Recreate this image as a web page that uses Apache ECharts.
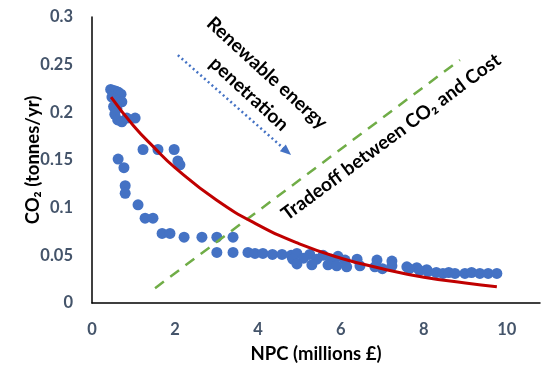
<!DOCTYPE html>
<html><head><meta charset="utf-8">
<script src="https://cdn.jsdelivr.net/npm/echarts@6/dist/echarts.min.js"></script>
<style>html,body{margin:0;padding:0;background:#fff}#c{width:545px;height:370px}</style>
</head><body><div id="c"></div>
<script>
// Scatter data
var npcX = [0.45,0.52,0.58,0.64,0.70,0.48,0.56,0.62,0.72,0.52,0.60,0.55,0.62,0.72,0.84,1.04,
  0.63,0.77,0.80,0.80,1.11,1.23,1.59,1.98,2.07,2.12,1.28,1.47,1.69,1.88,2.22,2.65,3.01,3.40,
  3.01,3.40,3.76,3.93,4.12,4.35,4.58,4.80,4.94,5.25,5.57,5.93,
  4.84,5.10,5.42,5.78,6.10,6.39,6.87,7.23,
  4.94,5.30,5.69,5.90,6.14,6.46,6.82,7.00,7.23,7.59,7.83,8.07,
  7.65,7.90,8.10,8.30,8.46,8.60,8.75,8.99,9.15,9.35,9.55,9.76];
var co2Y = [0.224,0.223,0.222,0.221,0.219,0.216,0.214,0.212,0.211,0.206,0.204,0.198,0.192,0.190,0.194,0.194,
  0.151,0.142,0.123,0.115,0.103,0.161,0.161,0.161,0.149,0.145,0.089,0.089,0.073,0.073,0.069,0.069,0.069,0.069,
  0.053,0.053,0.053,0.052,0.052,0.051,0.051,0.050,0.052,0.051,0.050,0.049,
  0.046,0.047,0.046,0.046,0.045,0.046,0.045,0.044,
  0.041,0.040,0.040,0.039,0.038,0.039,0.038,0.036,0.039,0.038,0.037,0.035,
  0.036,0.034,0.033,0.032,0.031,0.032,0.031,0.031,0.032,0.031,0.031,0.031];
// Trend line (red)
var trendX = [0.46,1,1.5,2,3,4,5,6,7,8,9,9.76];
var trendY = [0.216,0.186,0.163,0.142,0.108,0.082,0.062,0.047,0.036,0.027,0.021,0.017];
// Tradeoff dashed line (green)
var tradeX = [1.52,8.87];
var tradeY = [0.0156,0.255];
// Renewable penetration arrow (blue dotted)
var arrowX = [2.07,4.70];
var arrowY = [0.26,0.159];
// Axes
var xMin = 0, xMax = 10.8, xStep = 2;
var yMin = 0, yMax = 0.3, yStep = 0.05;

function zip(a,b){return a.map(function(v,i){return [v,b[i]];});}
var FONT = 'Lato';
var chart = echarts.init(document.getElementById('c'), null, {renderer:'canvas'});
chart.setOption({
  animation:false,
  backgroundColor:'#fff',
  grid:{left:92,right:5,top:17,bottom:67,containLabel:false},
  xAxis:{type:'value',min:xMin,max:xMax,interval:xStep,
    name:'NPC (millions £)',nameLocation:'middle',nameGap:42,nameMoveOverlap:false,
    nameTextStyle:{fontFamily:FONT,fontWeight:'bold',fontSize:18.5,color:'#000'},
    axisLine:{show:true,onZero:false,lineStyle:{color:'#000',width:1.5}},
    axisTick:{show:false},splitLine:{show:false},
    axisLabel:{showMaxLabel:false,margin:18,fontFamily:FONT,fontWeight:'bold',fontSize:16.5,color:'#44546A'}},
  yAxis:{type:'value',min:yMin,max:yMax,interval:yStep,
    name:'CO₂ (tonnes/yr)',nameLocation:'middle',nameGap:49,nameRotate:90,nameMoveOverlap:false,
    nameTextStyle:{fontFamily:FONT,fontWeight:'bold',fontSize:18.5,color:'#000'},
    axisLine:{show:true,onZero:false,lineStyle:{color:'#000',width:1.5}},
    axisTick:{show:false},splitLine:{show:false},
    axisLabel:{margin:19,fontFamily:FONT,fontWeight:'bold',fontSize:16.5,color:'#44546A'}},
  series:[
    {type:'scatter',data:zip(npcX,co2Y),symbolSize:11,itemStyle:{color:'#4472C4',opacity:1},z:2},
    {type:'line',data:zip(tradeX,tradeY),symbol:'none',lineStyle:{color:'#70AD47',width:2.5,type:[11,8]},z:3},
    {type:'line',data:zip(trendX,trendY),symbol:'none',smooth:true,lineStyle:{color:'#C00000',width:3},z:4,
      markLine:{silent:true,symbol:['none','triangle'],symbolSize:[9,11],label:{show:false},
        lineStyle:{color:'#4472C4',width:2.5,type:[2,3]},
        data:[[{coord:[arrowX[0],arrowY[0]]},{coord:[arrowX[1],arrowY[1]]}]]}}
  ],
  graphic:[
    {type:'text',x:267,y:73,rotation:-42.5*Math.PI/180,style:{text:'Renewable energy',fontFamily:FONT,fontWeight:'bold',fontSize:19,fill:'#000',align:'center',verticalAlign:'middle'}},
    {type:'text',x:249,y:94,rotation:-42.5*Math.PI/180,style:{text:'penetration',fontFamily:FONT,fontWeight:'bold',fontSize:19,fill:'#000',align:'center',verticalAlign:'middle'}},
    {type:'text',x:391,y:137,rotation:36.4*Math.PI/180,style:{text:'Tradeoff between CO₂ and Cost',fontFamily:FONT,fontWeight:'bold',fontSize:19,fill:'#000',align:'center',verticalAlign:'middle'}}
  ]
});
</script></body></html>
